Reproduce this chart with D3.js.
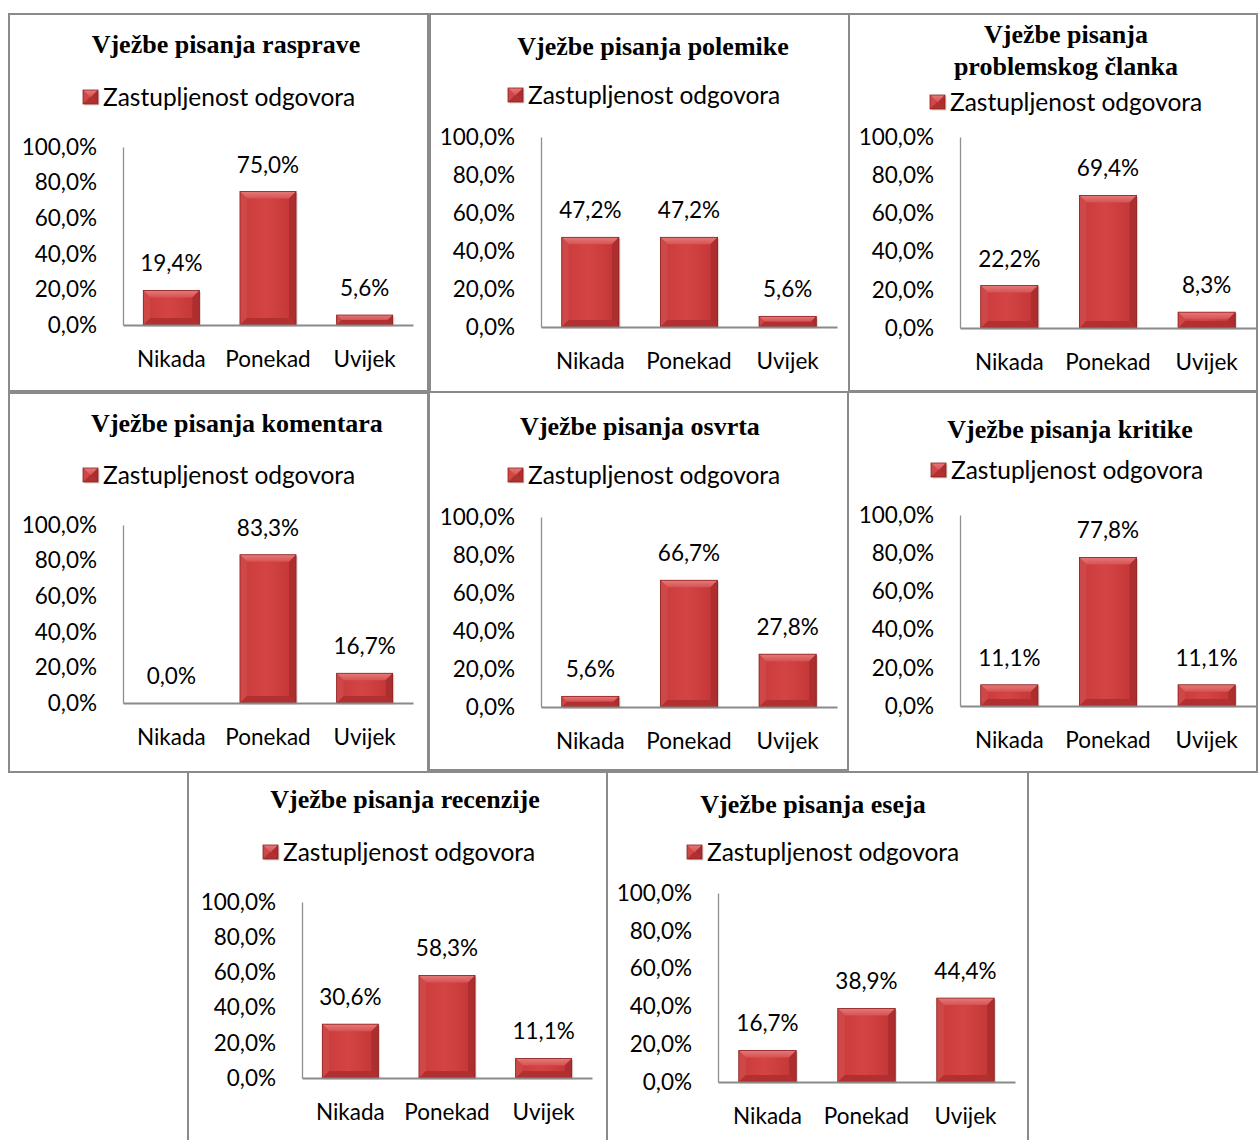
<!DOCTYPE html>
<html>
<head>
<meta charset="utf-8">
<script src="https://cdn.jsdelivr.net/npm/d3@7"></script>
<style>
body { margin: 0; background: #fff; }
svg { display: block; }
</style>
</head>
<body>
<svg></svg>
<script>
// data
var categories = ['Nikada', 'Ponekad', 'Uvijek'];
var seriesName = 'Zastupljenost odgovora';
var yTicks = [0, 20, 40, 60, 80, 100];

var titles = [
  ['Vježbe pisanja rasprave'],
  ['Vježbe pisanja polemike'],
  ['Vježbe pisanja', 'problemskog članka'],
  ['Vježbe pisanja komentara'],
  ['Vježbe pisanja osvrta'],
  ['Vježbe pisanja kritike'],
  ['Vježbe pisanja recenzije'],
  ['Vježbe pisanja eseja']
];

var rasprave   = [19.4, 75.0, 5.6];
var polemike   = [47.2, 47.2, 5.6];
var clanak     = [22.2, 69.4, 8.3];
var komentari  = [0.0, 83.3, 16.7];
var osvrti     = [5.6, 66.7, 27.8];
var kritike    = [11.1, 77.8, 11.1];
var recenzije  = [30.6, 58.3, 11.1];
var eseji      = [16.7, 38.9, 44.4];

var values = [rasprave, polemike, clanak, komentari, osvrti, kritike, recenzije, eseji];

// layout of each panel (box, title, legend, plot area)
var panels = [
  {box: [9, 14, 428, 391],    tx: 226, ty: [53],     lx: 83,  ly: 97,  ax: 123, top: 147, bottom: 325, right: 413},
  {box: [430, 14, 849, 392],  tx: 653, ty: [55],     lx: 508, ly: 95,  ax: 541, top: 137, bottom: 327, right: 837},
  {box: [849, 14, 1257, 391], tx: 1066, ty: [43, 75], lx: 930, ly: 102, ax: 960, top: 137, bottom: 328, right: 1256},
  {box: [9, 393, 428, 772],   tx: 237, ty: [432],    lx: 83,  ly: 475, ax: 123, top: 525, bottom: 703, right: 413},
  {box: [429, 392, 848, 770], tx: 640, ty: [435],    lx: 508, ly: 475, ax: 541, top: 517, bottom: 707, right: 837},
  {box: [848, 392, 1257, 772], tx: 1070, ty: [438],  lx: 931, ly: 470, ax: 960, top: 515, bottom: 706, right: 1256},
  {box: [188, 772, 608, 1150], tx: 405, ty: [808],   lx: 263, ly: 852, ax: 302, top: 902, bottom: 1078, right: 592},
  {box: [607, 772, 1028, 1150], tx: 813, ty: [813],  lx: 687, ly: 852, ax: 718, top: 893, bottom: 1082, right: 1015}
];

var svgWidth = 1258, svgHeight = 1140;
var sansFont = 'Lato, "Open Sans", sans-serif';
var sansSize = 22.5;
var legendSize = 24.5;

var locale = d3.formatLocale({decimal: ',', thousands: '.', grouping: [3], currency: ['', '']});
var fmt = locale.format('.1f');
var pct = function(d) { return fmt(d) + '%'; };

var svg = d3.select('svg')
  .attr('width', svgWidth)
  .attr('height', svgHeight);

// gradients for the bevelled bars
var defs = svg.append('defs');
var face = defs.append('linearGradient').attr('id', 'face')
  .attr('x1', 0).attr('x2', 1).attr('y1', 0).attr('y2', 0);
face.append('stop').attr('offset', '0%').attr('stop-color', '#c93a3a');
face.append('stop').attr('offset', '45%').attr('stop-color', '#d44444');
face.append('stop').attr('offset', '100%').attr('stop-color', '#c23535');
var topBev = defs.append('linearGradient').attr('id', 'topbev')
  .attr('x1', 0).attr('x2', 0).attr('y1', 0).attr('y2', 1);
topBev.append('stop').attr('offset', '0%').attr('stop-color', '#e67a7a');
topBev.append('stop').attr('offset', '100%').attr('stop-color', '#d65252');

function bevelBox(g, x, y, w, h) {
  var b = Math.min(7, h / 2, w / 2);
  g.append('rect')
    .attr('x', x + 1.5).attr('y', y + 1.5)
    .attr('width', w).attr('height', h)
    .attr('fill', '#9a8a8a').attr('opacity', 0.35);
  g.append('rect')
    .attr('x', x).attr('y', y)
    .attr('width', w).attr('height', h)
    .attr('fill', 'url(#face)');
  var pts = function(a) { return a.map(function(p) { return p.join(','); }).join(' '); };
  g.append('polygon')
    .attr('points', pts([[x, y], [x + w, y], [x + w - b, y + b], [x + b, y + b]]))
    .attr('fill', 'url(#topbev)');
  g.append('polygon')
    .attr('points', pts([[x, y], [x + b, y + b], [x + b, y + h - b], [x, y + h]]))
    .attr('fill', '#cf4848');
  g.append('polygon')
    .attr('points', pts([[x + w, y], [x + w, y + h], [x + w - b, y + h - b], [x + w - b, y + b]]))
    .attr('fill', '#ad2e2e');
  g.append('polygon')
    .attr('points', pts([[x, y + h], [x + b, y + h - b], [x + w - b, y + h - b], [x + w, y + h]]))
    .attr('fill', '#b33030');
  g.append('rect')
    .attr('x', x).attr('y', y)
    .attr('width', w).attr('height', h)
    .attr('fill', 'none')
    .attr('stroke', '#8c2020').attr('stroke-width', 0.8);
}

panels.forEach(function(p, i) {
  var data = values[i];
  var g = svg.append('g');

  // frame
  g.append('rect')
    .attr('x', p.box[0]).attr('y', p.box[1])
    .attr('width', p.box[2] - p.box[0]).attr('height', p.box[3] - p.box[1])
    .attr('fill', '#fff')
    .attr('stroke', '#8a8a8a').attr('stroke-width', 2);

  // title
  titles[i].forEach(function(t, k) {
    g.append('text')
      .attr('x', p.tx).attr('y', p.ty[k])
      .attr('text-anchor', 'middle')
      .style('font-family', '"Liberation Serif", "Times New Roman", serif')
      .style('font-weight', 'bold')
      .style('font-size', '26px')
      .text(t);
  });

  // legend
  var lg = g.append('g');
  bevelBox(lg, p.lx, p.ly - 7, 15, 14);
  lg.append('text')
    .attr('x', p.lx + 20).attr('y', p.ly)
    .attr('dy', '0.35em')
    .style('font-family', sansFont)
    .style('font-size', legendSize + 'px')
    .text(seriesName);

  var xScale = d3.scaleBand()
    .domain(categories)
    .range([p.ax, p.right])
    .paddingInner(0.42)
    .paddingOuter(0.21);

  var yScale = d3.scaleLinear()
    .domain([0, 100])
    .range([p.bottom, p.top]);

  // bars
  var bars = g.append('g');
  categories.forEach(function(c, j) {
    var h = p.bottom - yScale(data[j]);
    if (h > 0.5) bevelBox(bars, xScale(c), yScale(data[j]), xScale.bandwidth(), h);
  });

  // value labels
  g.append('g').selectAll('text')
    .data(data)
    .enter()
    .append('text')
    .attr('x', function(d, j) { return xScale(categories[j]) + xScale.bandwidth() / 2; })
    .attr('y', function(d) { return yScale(d) - 19; })
    .attr('text-anchor', 'middle')
    .style('font-family', sansFont)
    .style('font-size', sansSize + 'px')
    .text(pct);

  // axes
  var y_axis = d3.axisLeft(yScale)
    .tickValues(yTicks)
    .tickSize(0)
    .tickPadding(26)
    .tickFormat(pct);

  var x_axis = d3.axisBottom(xScale)
    .tickSize(0)
    .tickPadding(26);

  var ya = g.append('g')
    .attr('transform', 'translate(' + p.ax + ',0)')
    .call(y_axis);
  ya.select('.domain').attr('stroke', '#8f8f8f').attr('stroke-width', 1.3);

  var xa = g.append('g')
    .attr('transform', 'translate(0,' + p.bottom + ')')
    .call(x_axis);
  xa.select('.domain').attr('stroke', '#8a8a8a').attr('stroke-width', 2);

  g.selectAll('.tick text')
    .attr('fill', '#000')
    .style('font-family', sansFont)
    .style('font-size', sansSize + 'px');
});
</script>
</body>
</html>
